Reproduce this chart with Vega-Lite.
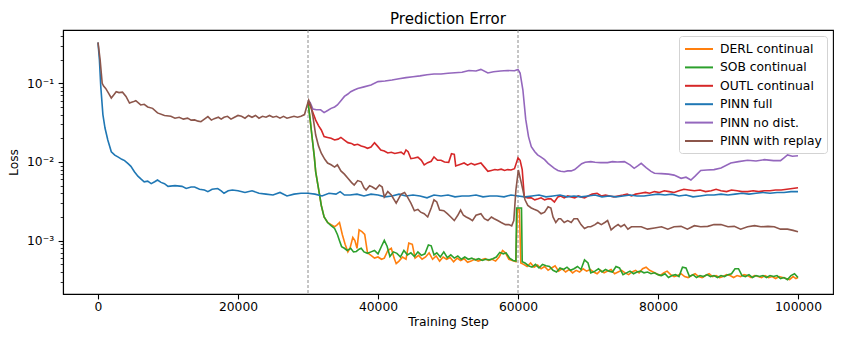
{
"$schema": "https://vega.github.io/schema/vega-lite/v6.json",
"width": 770, "height": 264,
"autosize": {"type": "none"},
"padding": {"left": 63, "top": 30, "right": 14, "bottom": 45},
"background": "white",
"title": {"text": "Prediction Error", "fontSize": 15, "font": "DejaVu Sans", "fontWeight": "normal", "color": "black", "offset": 2.5, "anchor": "middle"},
"config": {
  "view": {"stroke": "black", "strokeWidth": 1.1},
  "font": "DejaVu Sans",
  "axis": {"labelFont": "DejaVu Sans", "labelFontSize": 12.3, "labelColor": "black", "titleFont": "DejaVu Sans", "titleFontSize": 12.3, "titleFontWeight": "normal", "titleColor": "black", "tickColor": "black", "tickWidth": 1.1, "domainColor": "black", "domainWidth": 1.1, "grid": false, "labelPadding": 4.5},
  "legend": {"orient": "top-right", "offset": 6, "symbolType": "M-1,0H3", "symbolStrokeWidth": 2, "symbolSize": 196, "labelFont": "DejaVu Sans", "labelFontSize": 12.3, "labelColor": "black", "strokeColor": "#d3d3d3", "fillColor": "rgba(255,255,255,0.8)", "cornerRadius": 3, "padding": 5, "rowPadding": 3.4, "labelOffset": 20}
},
"layer": [
{"data": {"values": [{"step": 30000}, {"step": 60000}]},
 "mark": {"type": "rule", "color": "#7f7f7f", "strokeDash": [3, 2], "strokeWidth": 0.9},
 "encoding": {"x": {"field": "step", "type": "quantitative", "scale": {"domain": [-5000, 105000], "nice": false, "zero": false}}}},
{"data": {"values": [
{"series":"DERL continual","step":30000,"loss":0.058},
{"series":"DERL continual","step":30300,"loss":0.035},
{"series":"DERL continual","step":30600,"loss":0.02},
{"series":"DERL continual","step":30900,"loss":0.0117},
{"series":"DERL continual","step":31100,"loss":0.0075},
{"series":"DERL continual","step":31400,"loss":0.0052},
{"series":"DERL continual","step":31700,"loss":0.0036},
{"series":"DERL continual","step":31900,"loss":0.0028},
{"series":"DERL continual","step":32300,"loss":0.002},
{"series":"DERL continual","step":32800,"loss":0.0017},
{"series":"DERL continual","step":33300,"loss":0.0016},
{"series":"DERL continual","step":33800,"loss":0.0015},
{"series":"DERL continual","step":34200,"loss":0.0016},
{"series":"DERL continual","step":34500,"loss":0.0017},
{"series":"DERL continual","step":34900,"loss":0.0012},
{"series":"DERL continual","step":35300,"loss":0.0009},
{"series":"DERL continual","step":35700,"loss":0.00072},
{"series":"DERL continual","step":36000,"loss":0.0008},
{"series":"DERL continual","step":36400,"loss":0.0011},
{"series":"DERL continual","step":36700,"loss":0.001},
{"series":"DERL continual","step":37000,"loss":0.0008},
{"series":"DERL continual","step":37300,"loss":0.00137},
{"series":"DERL continual","step":37700,"loss":0.0013},
{"series":"DERL continual","step":38100,"loss":0.0012},
{"series":"DERL continual","step":38500,"loss":0.0007},
{"series":"DERL continual","step":39000,"loss":0.00065},
{"series":"DERL continual","step":39500,"loss":0.0006},
{"series":"DERL continual","step":40000,"loss":0.00062},
{"series":"DERL continual","step":40500,"loss":0.00058},
{"series":"DERL continual","step":40900,"loss":0.0006},
{"series":"DERL continual","step":41400,"loss":0.00075},
{"series":"DERL continual","step":41900,"loss":0.0008},
{"series":"DERL continual","step":42300,"loss":0.0006},
{"series":"DERL continual","step":42600,"loss":0.00051},
{"series":"DERL continual","step":43000,"loss":0.00055},
{"series":"DERL continual","step":43500,"loss":0.00062},
{"series":"DERL continual","step":44000,"loss":0.00058},
{"series":"DERL continual","step":44400,"loss":0.00093},
{"series":"DERL continual","step":44900,"loss":0.0009},
{"series":"DERL continual","step":45300,"loss":0.0006},
{"series":"DERL continual","step":45800,"loss":0.00065},
{"series":"DERL continual","step":46300,"loss":0.00058},
{"series":"DERL continual","step":46800,"loss":0.00062},
{"series":"DERL continual","step":47300,"loss":0.0007},
{"series":"DERL continual","step":47800,"loss":0.00058},
{"series":"DERL continual","step":48300,"loss":0.00064},
{"series":"DERL continual","step":48800,"loss":0.00055},
{"series":"DERL continual","step":49300,"loss":0.00062},
{"series":"DERL continual","step":49800,"loss":0.00058},
{"series":"DERL continual","step":50300,"loss":0.00061},
{"series":"DERL continual","step":50800,"loss":0.00054},
{"series":"DERL continual","step":51300,"loss":0.0006},
{"series":"DERL continual","step":51800,"loss":0.00056},
{"series":"DERL continual","step":52300,"loss":0.00059},
{"series":"DERL continual","step":52800,"loss":0.00053},
{"series":"DERL continual","step":53300,"loss":0.00055},
{"series":"DERL continual","step":53800,"loss":0.00058},
{"series":"DERL continual","step":54300,"loss":0.00055},
{"series":"DERL continual","step":54800,"loss":0.00057},
{"series":"DERL continual","step":55300,"loss":0.00059},
{"series":"DERL continual","step":55800,"loss":0.00056},
{"series":"DERL continual","step":56300,"loss":0.00058},
{"series":"DERL continual","step":56800,"loss":0.00055},
{"series":"DERL continual","step":57300,"loss":0.00062},
{"series":"DERL continual","step":57800,"loss":0.00075},
{"series":"DERL continual","step":58200,"loss":0.0007},
{"series":"DERL continual","step":58700,"loss":0.00058},
{"series":"DERL continual","step":59200,"loss":0.00056},
{"series":"DERL continual","step":59700,"loss":0.00054},
{"series":"DERL continual","step":59900,"loss":0.0025},
{"series":"DERL continual","step":60200,"loss":0.0025},
{"series":"DERL continual","step":60400,"loss":0.00052},
{"series":"DERL continual","step":60800,"loss":0.0005},
{"series":"DERL continual","step":61300,"loss":0.00047},
{"series":"DERL continual","step":61800,"loss":0.00052},
{"series":"DERL continual","step":62300,"loss":0.00046},
{"series":"DERL continual","step":62800,"loss":0.00049},
{"series":"DERL continual","step":63300,"loss":0.00044},
{"series":"DERL continual","step":63800,"loss":0.00047},
{"series":"DERL continual","step":64300,"loss":0.00042},
{"series":"DERL continual","step":64800,"loss":0.00045},
{"series":"DERL continual","step":65300,"loss":0.00048},
{"series":"DERL continual","step":65800,"loss":0.00041},
{"series":"DERL continual","step":66300,"loss":0.00044},
{"series":"DERL continual","step":66800,"loss":0.0004},
{"series":"DERL continual","step":67300,"loss":0.00043},
{"series":"DERL continual","step":67800,"loss":0.00039},
{"series":"DERL continual","step":68300,"loss":0.00042},
{"series":"DERL continual","step":68800,"loss":0.0004},
{"series":"DERL continual","step":69300,"loss":0.00044},
{"series":"DERL continual","step":69800,"loss":0.00041},
{"series":"DERL continual","step":70300,"loss":0.00043},
{"series":"DERL continual","step":70800,"loss":0.0004},
{"series":"DERL continual","step":71300,"loss":0.00038},
{"series":"DERL continual","step":71800,"loss":0.00042},
{"series":"DERL continual","step":72300,"loss":0.00039},
{"series":"DERL continual","step":72800,"loss":0.00041},
{"series":"DERL continual","step":73300,"loss":0.00043},
{"series":"DERL continual","step":73800,"loss":0.00038},
{"series":"DERL continual","step":74300,"loss":0.0004},
{"series":"DERL continual","step":74800,"loss":0.00042},
{"series":"DERL continual","step":75300,"loss":0.00039},
{"series":"DERL continual","step":75800,"loss":0.00037},
{"series":"DERL continual","step":76300,"loss":0.0004},
{"series":"DERL continual","step":76800,"loss":0.00042},
{"series":"DERL continual","step":77300,"loss":0.00039},
{"series":"DERL continual","step":77800,"loss":0.00044},
{"series":"DERL continual","step":78300,"loss":0.00046},
{"series":"DERL continual","step":78800,"loss":0.00042},
{"series":"DERL continual","step":79300,"loss":0.0004},
{"series":"DERL continual","step":79800,"loss":0.00038},
{"series":"DERL continual","step":80300,"loss":0.00036},
{"series":"DERL continual","step":80800,"loss":0.00039},
{"series":"DERL continual","step":81300,"loss":0.00041},
{"series":"DERL continual","step":81800,"loss":0.00037},
{"series":"DERL continual","step":82300,"loss":0.00035},
{"series":"DERL continual","step":82800,"loss":0.00036},
{"series":"DERL continual","step":83300,"loss":0.00038},
{"series":"DERL continual","step":83800,"loss":0.00035},
{"series":"DERL continual","step":84300,"loss":0.00034},
{"series":"DERL continual","step":84800,"loss":0.00036},
{"series":"DERL continual","step":85300,"loss":0.00038},
{"series":"DERL continual","step":85800,"loss":0.00035},
{"series":"DERL continual","step":86300,"loss":0.00034},
{"series":"DERL continual","step":86800,"loss":0.00036},
{"series":"DERL continual","step":87300,"loss":0.00038},
{"series":"DERL continual","step":87800,"loss":0.00035},
{"series":"DERL continual","step":88300,"loss":0.00036},
{"series":"DERL continual","step":88800,"loss":0.00034},
{"series":"DERL continual","step":89300,"loss":0.00035},
{"series":"DERL continual","step":89800,"loss":0.00037},
{"series":"DERL continual","step":90300,"loss":0.00036},
{"series":"DERL continual","step":90800,"loss":0.00034},
{"series":"DERL continual","step":91300,"loss":0.00036},
{"series":"DERL continual","step":91800,"loss":0.00035},
{"series":"DERL continual","step":92300,"loss":0.00037},
{"series":"DERL continual","step":92800,"loss":0.00036},
{"series":"DERL continual","step":93300,"loss":0.00034},
{"series":"DERL continual","step":93800,"loss":0.00036},
{"series":"DERL continual","step":94300,"loss":0.00035},
{"series":"DERL continual","step":94800,"loss":0.00034},
{"series":"DERL continual","step":95300,"loss":0.00036},
{"series":"DERL continual","step":95800,"loss":0.00034},
{"series":"DERL continual","step":96300,"loss":0.00035},
{"series":"DERL continual","step":96800,"loss":0.00033},
{"series":"DERL continual","step":97300,"loss":0.00035},
{"series":"DERL continual","step":97800,"loss":0.00034},
{"series":"DERL continual","step":98300,"loss":0.00033},
{"series":"DERL continual","step":98800,"loss":0.00032},
{"series":"DERL continual","step":99300,"loss":0.00035},
{"series":"DERL continual","step":99700,"loss":0.00033},
{"series":"DERL continual","step":100000,"loss":0.00034},
{"series":"SOB continual","step":30000,"loss":0.058},
{"series":"SOB continual","step":30300,"loss":0.035},
{"series":"SOB continual","step":30600,"loss":0.02},
{"series":"SOB continual","step":30900,"loss":0.0117},
{"series":"SOB continual","step":31100,"loss":0.0075},
{"series":"SOB continual","step":31400,"loss":0.0052},
{"series":"SOB continual","step":31700,"loss":0.0036},
{"series":"SOB continual","step":31900,"loss":0.0028},
{"series":"SOB continual","step":32300,"loss":0.002},
{"series":"SOB continual","step":32800,"loss":0.0017},
{"series":"SOB continual","step":33300,"loss":0.00155},
{"series":"SOB continual","step":33800,"loss":0.00143},
{"series":"SOB continual","step":34200,"loss":0.0012},
{"series":"SOB continual","step":34500,"loss":0.001},
{"series":"SOB continual","step":34800,"loss":0.00084},
{"series":"SOB continual","step":35200,"loss":0.0008},
{"series":"SOB continual","step":35600,"loss":0.00075},
{"series":"SOB continual","step":36100,"loss":0.0008},
{"series":"SOB continual","step":36500,"loss":0.00072},
{"series":"SOB continual","step":36900,"loss":0.00073},
{"series":"SOB continual","step":37300,"loss":0.00078},
{"series":"SOB continual","step":37600,"loss":0.0008},
{"series":"SOB continual","step":38000,"loss":0.00072},
{"series":"SOB continual","step":38500,"loss":0.00069},
{"series":"SOB continual","step":39000,"loss":0.00072},
{"series":"SOB continual","step":39500,"loss":0.00075},
{"series":"SOB continual","step":40000,"loss":0.00068},
{"series":"SOB continual","step":40500,"loss":0.00085},
{"series":"SOB continual","step":40900,"loss":0.00101},
{"series":"SOB continual","step":41300,"loss":0.00085},
{"series":"SOB continual","step":41700,"loss":0.00063},
{"series":"SOB continual","step":42200,"loss":0.00072},
{"series":"SOB continual","step":42700,"loss":0.00069},
{"series":"SOB continual","step":43200,"loss":0.00062},
{"series":"SOB continual","step":43700,"loss":0.00075},
{"series":"SOB continual","step":44200,"loss":0.00066},
{"series":"SOB continual","step":44700,"loss":0.0007},
{"series":"SOB continual","step":45200,"loss":0.00063},
{"series":"SOB continual","step":45700,"loss":0.00072},
{"series":"SOB continual","step":46200,"loss":0.00065},
{"series":"SOB continual","step":46700,"loss":0.00068},
{"series":"SOB continual","step":47200,"loss":0.00088},
{"series":"SOB continual","step":47600,"loss":0.00086},
{"series":"SOB continual","step":48000,"loss":0.00066},
{"series":"SOB continual","step":48400,"loss":0.0007},
{"series":"SOB continual","step":48900,"loss":0.00062},
{"series":"SOB continual","step":49400,"loss":0.00072},
{"series":"SOB continual","step":49900,"loss":0.00061},
{"series":"SOB continual","step":50400,"loss":0.00066},
{"series":"SOB continual","step":50900,"loss":0.0006},
{"series":"SOB continual","step":51400,"loss":0.00064},
{"series":"SOB continual","step":51900,"loss":0.00058},
{"series":"SOB continual","step":52400,"loss":0.00062},
{"series":"SOB continual","step":52900,"loss":0.00058},
{"series":"SOB continual","step":53400,"loss":0.0006},
{"series":"SOB continual","step":53900,"loss":0.00057},
{"series":"SOB continual","step":54400,"loss":0.00059},
{"series":"SOB continual","step":54900,"loss":0.00056},
{"series":"SOB continual","step":55400,"loss":0.00058},
{"series":"SOB continual","step":55900,"loss":0.00057},
{"series":"SOB continual","step":56400,"loss":0.00059},
{"series":"SOB continual","step":56900,"loss":0.00062},
{"series":"SOB continual","step":57400,"loss":0.00071},
{"series":"SOB continual","step":57900,"loss":0.00068},
{"series":"SOB continual","step":58300,"loss":0.0007},
{"series":"SOB continual","step":58800,"loss":0.0006},
{"series":"SOB continual","step":59300,"loss":0.00056},
{"series":"SOB continual","step":59700,"loss":0.00055},
{"series":"SOB continual","step":59800,"loss":0.0026},
{"series":"SOB continual","step":60500,"loss":0.0026},
{"series":"SOB continual","step":60600,"loss":0.00054},
{"series":"SOB continual","step":61000,"loss":0.00052},
{"series":"SOB continual","step":61500,"loss":0.00048},
{"series":"SOB continual","step":62000,"loss":0.00046},
{"series":"SOB continual","step":62500,"loss":0.0005},
{"series":"SOB continual","step":63000,"loss":0.00045},
{"series":"SOB continual","step":63500,"loss":0.0005},
{"series":"SOB continual","step":64000,"loss":0.00048},
{"series":"SOB continual","step":64500,"loss":0.00047},
{"series":"SOB continual","step":65000,"loss":0.00042},
{"series":"SOB continual","step":65500,"loss":0.0004},
{"series":"SOB continual","step":66000,"loss":0.00045},
{"series":"SOB continual","step":66500,"loss":0.00043},
{"series":"SOB continual","step":67000,"loss":0.00046},
{"series":"SOB continual","step":67500,"loss":0.00042},
{"series":"SOB continual","step":68000,"loss":0.00044},
{"series":"SOB continual","step":68500,"loss":0.00047},
{"series":"SOB continual","step":69000,"loss":0.00043},
{"series":"SOB continual","step":69500,"loss":0.00057},
{"series":"SOB continual","step":70000,"loss":0.00052},
{"series":"SOB continual","step":70400,"loss":0.00039},
{"series":"SOB continual","step":71000,"loss":0.00041},
{"series":"SOB continual","step":71500,"loss":0.00044},
{"series":"SOB continual","step":72000,"loss":0.0004},
{"series":"SOB continual","step":72500,"loss":0.00043},
{"series":"SOB continual","step":73000,"loss":0.00041},
{"series":"SOB continual","step":73500,"loss":0.0004},
{"series":"SOB continual","step":74000,"loss":0.00047},
{"series":"SOB continual","step":74500,"loss":0.00045},
{"series":"SOB continual","step":75000,"loss":0.00037},
{"series":"SOB continual","step":75500,"loss":0.00039},
{"series":"SOB continual","step":76000,"loss":0.00041},
{"series":"SOB continual","step":76500,"loss":0.00038},
{"series":"SOB continual","step":77000,"loss":0.0004},
{"series":"SOB continual","step":77500,"loss":0.00041},
{"series":"SOB continual","step":78000,"loss":0.00039},
{"series":"SOB continual","step":78500,"loss":0.0004},
{"series":"SOB continual","step":79000,"loss":0.00038},
{"series":"SOB continual","step":79500,"loss":0.00039},
{"series":"SOB continual","step":80000,"loss":0.00037},
{"series":"SOB continual","step":80500,"loss":0.00036},
{"series":"SOB continual","step":81000,"loss":0.00038},
{"series":"SOB continual","step":81500,"loss":0.00034},
{"series":"SOB continual","step":82000,"loss":0.00036},
{"series":"SOB continual","step":82500,"loss":0.00037},
{"series":"SOB continual","step":83000,"loss":0.00035},
{"series":"SOB continual","step":83500,"loss":0.00046},
{"series":"SOB continual","step":84000,"loss":0.00045},
{"series":"SOB continual","step":84500,"loss":0.00035},
{"series":"SOB continual","step":85000,"loss":0.00037},
{"series":"SOB continual","step":85500,"loss":0.00034},
{"series":"SOB continual","step":86000,"loss":0.00036},
{"series":"SOB continual","step":86500,"loss":0.00035},
{"series":"SOB continual","step":87000,"loss":0.00037},
{"series":"SOB continual","step":87500,"loss":0.00035},
{"series":"SOB continual","step":88000,"loss":0.00036},
{"series":"SOB continual","step":88500,"loss":0.00034},
{"series":"SOB continual","step":89000,"loss":0.00036},
{"series":"SOB continual","step":89500,"loss":0.00035},
{"series":"SOB continual","step":90000,"loss":0.00037},
{"series":"SOB continual","step":90500,"loss":0.00038},
{"series":"SOB continual","step":91000,"loss":0.00044},
{"series":"SOB continual","step":91500,"loss":0.00044},
{"series":"SOB continual","step":92000,"loss":0.00036},
{"series":"SOB continual","step":92500,"loss":0.00035},
{"series":"SOB continual","step":93000,"loss":0.00037},
{"series":"SOB continual","step":93500,"loss":0.00034},
{"series":"SOB continual","step":94000,"loss":0.00036},
{"series":"SOB continual","step":94500,"loss":0.00035},
{"series":"SOB continual","step":95000,"loss":0.00036},
{"series":"SOB continual","step":95500,"loss":0.00034},
{"series":"SOB continual","step":96000,"loss":0.00036},
{"series":"SOB continual","step":96500,"loss":0.00035},
{"series":"SOB continual","step":97000,"loss":0.00036},
{"series":"SOB continual","step":97500,"loss":0.00033},
{"series":"SOB continual","step":98000,"loss":0.00034},
{"series":"SOB continual","step":98500,"loss":0.00032},
{"series":"SOB continual","step":99000,"loss":0.00036},
{"series":"SOB continual","step":99500,"loss":0.00038},
{"series":"SOB continual","step":100000,"loss":0.00034},
{"series":"OUTL continual","step":30000,"loss":0.058},
{"series":"OUTL continual","step":30400,"loss":0.05},
{"series":"OUTL continual","step":30800,"loss":0.04},
{"series":"OUTL continual","step":31100,"loss":0.034},
{"series":"OUTL continual","step":31500,"loss":0.029},
{"series":"OUTL continual","step":31900,"loss":0.0255},
{"series":"OUTL continual","step":32300,"loss":0.021},
{"series":"OUTL continual","step":32800,"loss":0.0205},
{"series":"OUTL continual","step":33300,"loss":0.02},
{"series":"OUTL continual","step":33800,"loss":0.019},
{"series":"OUTL continual","step":34300,"loss":0.0195},
{"series":"OUTL continual","step":34700,"loss":0.0205},
{"series":"OUTL continual","step":35200,"loss":0.019},
{"series":"OUTL continual","step":35700,"loss":0.0176},
{"series":"OUTL continual","step":36200,"loss":0.0172},
{"series":"OUTL continual","step":36600,"loss":0.0164},
{"series":"OUTL continual","step":37100,"loss":0.0168},
{"series":"OUTL continual","step":37600,"loss":0.016},
{"series":"OUTL continual","step":38100,"loss":0.0155},
{"series":"OUTL continual","step":38500,"loss":0.0149},
{"series":"OUTL continual","step":39000,"loss":0.0155},
{"series":"OUTL continual","step":39500,"loss":0.0176},
{"series":"OUTL continual","step":39900,"loss":0.016},
{"series":"OUTL continual","step":40400,"loss":0.0142},
{"series":"OUTL continual","step":40900,"loss":0.0138},
{"series":"OUTL continual","step":41400,"loss":0.013},
{"series":"OUTL continual","step":41900,"loss":0.0133},
{"series":"OUTL continual","step":42400,"loss":0.0128},
{"series":"OUTL continual","step":42900,"loss":0.0131},
{"series":"OUTL continual","step":43300,"loss":0.0133},
{"series":"OUTL continual","step":43700,"loss":0.0125},
{"series":"OUTL continual","step":44000,"loss":0.0142},
{"series":"OUTL continual","step":44300,"loss":0.0135},
{"series":"OUTL continual","step":44700,"loss":0.011},
{"series":"OUTL continual","step":45200,"loss":0.0112},
{"series":"OUTL continual","step":45700,"loss":0.0115},
{"series":"OUTL continual","step":46200,"loss":0.0105},
{"series":"OUTL continual","step":46600,"loss":0.0092},
{"series":"OUTL continual","step":47100,"loss":0.0098},
{"series":"OUTL continual","step":47600,"loss":0.0102},
{"series":"OUTL continual","step":48000,"loss":0.0116},
{"series":"OUTL continual","step":48500,"loss":0.0105},
{"series":"OUTL continual","step":49000,"loss":0.0105},
{"series":"OUTL continual","step":49500,"loss":0.01},
{"series":"OUTL continual","step":50100,"loss":0.0099},
{"series":"OUTL continual","step":50500,"loss":0.0127},
{"series":"OUTL continual","step":50900,"loss":0.0125},
{"series":"OUTL continual","step":51100,"loss":0.0089},
{"series":"OUTL continual","step":51700,"loss":0.0093},
{"series":"OUTL continual","step":52300,"loss":0.0097},
{"series":"OUTL continual","step":52800,"loss":0.0091},
{"series":"OUTL continual","step":53300,"loss":0.0096},
{"series":"OUTL continual","step":53800,"loss":0.0092},
{"series":"OUTL continual","step":54300,"loss":0.0095},
{"series":"OUTL continual","step":54700,"loss":0.0097},
{"series":"OUTL continual","step":55200,"loss":0.0086},
{"series":"OUTL continual","step":55700,"loss":0.0076},
{"series":"OUTL continual","step":56200,"loss":0.0078},
{"series":"OUTL continual","step":56700,"loss":0.008},
{"series":"OUTL continual","step":57100,"loss":0.0079},
{"series":"OUTL continual","step":57600,"loss":0.0081},
{"series":"OUTL continual","step":58100,"loss":0.0078},
{"series":"OUTL continual","step":58500,"loss":0.008},
{"series":"OUTL continual","step":59000,"loss":0.0079},
{"series":"OUTL continual","step":59500,"loss":0.0082},
{"series":"OUTL continual","step":60000,"loss":0.0113},
{"series":"OUTL continual","step":60300,"loss":0.0105},
{"series":"OUTL continual","step":60600,"loss":0.008},
{"series":"OUTL continual","step":60900,"loss":0.0036},
{"series":"OUTL continual","step":61400,"loss":0.0035},
{"series":"OUTL continual","step":61900,"loss":0.0035},
{"series":"OUTL continual","step":62400,"loss":0.0033},
{"series":"OUTL continual","step":62900,"loss":0.0034},
{"series":"OUTL continual","step":63300,"loss":0.0035},
{"series":"OUTL continual","step":63800,"loss":0.0033},
{"series":"OUTL continual","step":64300,"loss":0.0034},
{"series":"OUTL continual","step":64700,"loss":0.0034},
{"series":"OUTL continual","step":65200,"loss":0.0031},
{"series":"OUTL continual","step":65700,"loss":0.0036},
{"series":"OUTL continual","step":66100,"loss":0.0037},
{"series":"OUTL continual","step":66600,"loss":0.0035},
{"series":"OUTL continual","step":67100,"loss":0.0037},
{"series":"OUTL continual","step":67600,"loss":0.0036},
{"series":"OUTL continual","step":68100,"loss":0.0035},
{"series":"OUTL continual","step":68600,"loss":0.0037},
{"series":"OUTL continual","step":69000,"loss":0.0036},
{"series":"OUTL continual","step":69500,"loss":0.0035},
{"series":"OUTL continual","step":70000,"loss":0.0037},
{"series":"OUTL continual","step":70600,"loss":0.0039},
{"series":"OUTL continual","step":71300,"loss":0.004},
{"series":"OUTL continual","step":71900,"loss":0.0037},
{"series":"OUTL continual","step":72500,"loss":0.0038},
{"series":"OUTL continual","step":73100,"loss":0.0037},
{"series":"OUTL continual","step":73700,"loss":0.0036},
{"series":"OUTL continual","step":74300,"loss":0.0037},
{"series":"OUTL continual","step":75000,"loss":0.0038},
{"series":"OUTL continual","step":75600,"loss":0.0039},
{"series":"OUTL continual","step":76200,"loss":0.0037},
{"series":"OUTL continual","step":76800,"loss":0.0039},
{"series":"OUTL continual","step":77500,"loss":0.004},
{"series":"OUTL continual","step":78200,"loss":0.0041},
{"series":"OUTL continual","step":78800,"loss":0.004},
{"series":"OUTL continual","step":79500,"loss":0.0042},
{"series":"OUTL continual","step":80200,"loss":0.0041},
{"series":"OUTL continual","step":80900,"loss":0.0043},
{"series":"OUTL continual","step":81600,"loss":0.0042},
{"series":"OUTL continual","step":82300,"loss":0.0041},
{"series":"OUTL continual","step":83000,"loss":0.0043},
{"series":"OUTL continual","step":83700,"loss":0.0045},
{"series":"OUTL continual","step":84400,"loss":0.0044},
{"series":"OUTL continual","step":85200,"loss":0.0043},
{"series":"OUTL continual","step":86000,"loss":0.0044},
{"series":"OUTL continual","step":86800,"loss":0.0042},
{"series":"OUTL continual","step":87600,"loss":0.0043},
{"series":"OUTL continual","step":88300,"loss":0.0045},
{"series":"OUTL continual","step":89000,"loss":0.0043},
{"series":"OUTL continual","step":89800,"loss":0.0042},
{"series":"OUTL continual","step":90500,"loss":0.0044},
{"series":"OUTL continual","step":91300,"loss":0.0043},
{"series":"OUTL continual","step":92000,"loss":0.0042},
{"series":"OUTL continual","step":92800,"loss":0.0042},
{"series":"OUTL continual","step":93600,"loss":0.0043},
{"series":"OUTL continual","step":94400,"loss":0.0042},
{"series":"OUTL continual","step":95200,"loss":0.0043},
{"series":"OUTL continual","step":96000,"loss":0.0043},
{"series":"OUTL continual","step":96800,"loss":0.0044},
{"series":"OUTL continual","step":97600,"loss":0.0044},
{"series":"OUTL continual","step":98400,"loss":0.0045},
{"series":"OUTL continual","step":99200,"loss":0.0046},
{"series":"OUTL continual","step":100000,"loss":0.0047},
{"series":"PINN full","step":0,"loss":0.33},
{"series":"PINN full","step":200,"loss":0.2},
{"series":"PINN full","step":400,"loss":0.09},
{"series":"PINN full","step":700,"loss":0.04},
{"series":"PINN full","step":1000,"loss":0.027},
{"series":"PINN full","step":1400,"loss":0.019},
{"series":"PINN full","step":1900,"loss":0.0135},
{"series":"PINN full","step":2400,"loss":0.0122},
{"series":"PINN full","step":2900,"loss":0.0115},
{"series":"PINN full","step":3400,"loss":0.0108},
{"series":"PINN full","step":3800,"loss":0.0104},
{"series":"PINN full","step":4300,"loss":0.0095},
{"series":"PINN full","step":4700,"loss":0.0088},
{"series":"PINN full","step":5200,"loss":0.0075},
{"series":"PINN full","step":5700,"loss":0.0066},
{"series":"PINN full","step":6200,"loss":0.006},
{"series":"PINN full","step":6600,"loss":0.0056},
{"series":"PINN full","step":7100,"loss":0.0057},
{"series":"PINN full","step":7600,"loss":0.0053},
{"series":"PINN full","step":8100,"loss":0.0056},
{"series":"PINN full","step":8500,"loss":0.0059},
{"series":"PINN full","step":9000,"loss":0.0055},
{"series":"PINN full","step":9500,"loss":0.0053},
{"series":"PINN full","step":10000,"loss":0.0049},
{"series":"PINN full","step":11000,"loss":0.005},
{"series":"PINN full","step":12000,"loss":0.0049},
{"series":"PINN full","step":12600,"loss":0.0046},
{"series":"PINN full","step":13300,"loss":0.0048},
{"series":"PINN full","step":13800,"loss":0.0048},
{"series":"PINN full","step":14500,"loss":0.0045},
{"series":"PINN full","step":15200,"loss":0.0044},
{"series":"PINN full","step":15700,"loss":0.0042},
{"series":"PINN full","step":16300,"loss":0.0045},
{"series":"PINN full","step":17100,"loss":0.0046},
{"series":"PINN full","step":17600,"loss":0.0043},
{"series":"PINN full","step":18000,"loss":0.004},
{"series":"PINN full","step":18600,"loss":0.0043},
{"series":"PINN full","step":19200,"loss":0.0044},
{"series":"PINN full","step":20000,"loss":0.0043},
{"series":"PINN full","step":21000,"loss":0.0041},
{"series":"PINN full","step":22000,"loss":0.0043},
{"series":"PINN full","step":23000,"loss":0.004},
{"series":"PINN full","step":24000,"loss":0.0039},
{"series":"PINN full","step":25000,"loss":0.0038},
{"series":"PINN full","step":26000,"loss":0.0041},
{"series":"PINN full","step":27000,"loss":0.0037},
{"series":"PINN full","step":28000,"loss":0.0039},
{"series":"PINN full","step":29000,"loss":0.004},
{"series":"PINN full","step":30000,"loss":0.004},
{"series":"PINN full","step":31000,"loss":0.0039},
{"series":"PINN full","step":32000,"loss":0.0037},
{"series":"PINN full","step":33000,"loss":0.004},
{"series":"PINN full","step":34000,"loss":0.0039},
{"series":"PINN full","step":34600,"loss":0.0042},
{"series":"PINN full","step":35200,"loss":0.0038},
{"series":"PINN full","step":36000,"loss":0.0038},
{"series":"PINN full","step":37000,"loss":0.0039},
{"series":"PINN full","step":38000,"loss":0.0037},
{"series":"PINN full","step":39000,"loss":0.0039},
{"series":"PINN full","step":40000,"loss":0.0038},
{"series":"PINN full","step":41000,"loss":0.0036},
{"series":"PINN full","step":42000,"loss":0.0037},
{"series":"PINN full","step":43000,"loss":0.0039},
{"series":"PINN full","step":44000,"loss":0.0037},
{"series":"PINN full","step":45000,"loss":0.0038},
{"series":"PINN full","step":46000,"loss":0.0037},
{"series":"PINN full","step":47000,"loss":0.0035},
{"series":"PINN full","step":48000,"loss":0.0038},
{"series":"PINN full","step":49000,"loss":0.0037},
{"series":"PINN full","step":50000,"loss":0.0038},
{"series":"PINN full","step":51000,"loss":0.0036},
{"series":"PINN full","step":52000,"loss":0.0037},
{"series":"PINN full","step":53000,"loss":0.0037},
{"series":"PINN full","step":54000,"loss":0.0038},
{"series":"PINN full","step":55000,"loss":0.0036},
{"series":"PINN full","step":56000,"loss":0.0037},
{"series":"PINN full","step":57000,"loss":0.0037},
{"series":"PINN full","step":58000,"loss":0.0036},
{"series":"PINN full","step":59000,"loss":0.0038},
{"series":"PINN full","step":60000,"loss":0.0037},
{"series":"PINN full","step":61000,"loss":0.0036},
{"series":"PINN full","step":62000,"loss":0.0037},
{"series":"PINN full","step":63000,"loss":0.0038},
{"series":"PINN full","step":64000,"loss":0.0036},
{"series":"PINN full","step":65000,"loss":0.0037},
{"series":"PINN full","step":66000,"loss":0.0038},
{"series":"PINN full","step":67000,"loss":0.0036},
{"series":"PINN full","step":68000,"loss":0.0037},
{"series":"PINN full","step":69000,"loss":0.0036},
{"series":"PINN full","step":70000,"loss":0.0037},
{"series":"PINN full","step":71000,"loss":0.0038},
{"series":"PINN full","step":72000,"loss":0.0036},
{"series":"PINN full","step":73000,"loss":0.0037},
{"series":"PINN full","step":74000,"loss":0.0036},
{"series":"PINN full","step":75000,"loss":0.0037},
{"series":"PINN full","step":76000,"loss":0.0038},
{"series":"PINN full","step":77000,"loss":0.0037},
{"series":"PINN full","step":78000,"loss":0.0037},
{"series":"PINN full","step":79000,"loss":0.0038},
{"series":"PINN full","step":80000,"loss":0.0039},
{"series":"PINN full","step":81000,"loss":0.0038},
{"series":"PINN full","step":82000,"loss":0.0039},
{"series":"PINN full","step":83000,"loss":0.0037},
{"series":"PINN full","step":84000,"loss":0.0038},
{"series":"PINN full","step":85000,"loss":0.0036},
{"series":"PINN full","step":86000,"loss":0.0037},
{"series":"PINN full","step":87000,"loss":0.0038},
{"series":"PINN full","step":88000,"loss":0.0038},
{"series":"PINN full","step":89000,"loss":0.0039},
{"series":"PINN full","step":90000,"loss":0.0038},
{"series":"PINN full","step":91000,"loss":0.0039},
{"series":"PINN full","step":92000,"loss":0.004},
{"series":"PINN full","step":93000,"loss":0.0039},
{"series":"PINN full","step":94000,"loss":0.004},
{"series":"PINN full","step":95000,"loss":0.0041},
{"series":"PINN full","step":96000,"loss":0.004},
{"series":"PINN full","step":97000,"loss":0.0041},
{"series":"PINN full","step":98000,"loss":0.0041},
{"series":"PINN full","step":99000,"loss":0.0042},
{"series":"PINN full","step":100000,"loss":0.0042},
{"series":"PINN no dist.","step":30000,"loss":0.058},
{"series":"PINN no dist.","step":30300,"loss":0.057},
{"series":"PINN no dist.","step":30700,"loss":0.047},
{"series":"PINN no dist.","step":31200,"loss":0.046},
{"series":"PINN no dist.","step":31800,"loss":0.046},
{"series":"PINN no dist.","step":32300,"loss":0.0424},
{"series":"PINN no dist.","step":32800,"loss":0.045},
{"series":"PINN no dist.","step":33300,"loss":0.048},
{"series":"PINN no dist.","step":33800,"loss":0.05},
{"series":"PINN no dist.","step":34200,"loss":0.053},
{"series":"PINN no dist.","step":34700,"loss":0.06},
{"series":"PINN no dist.","step":35200,"loss":0.068},
{"series":"PINN no dist.","step":35700,"loss":0.073},
{"series":"PINN no dist.","step":36100,"loss":0.078},
{"series":"PINN no dist.","step":36600,"loss":0.082},
{"series":"PINN no dist.","step":37100,"loss":0.086},
{"series":"PINN no dist.","step":38000,"loss":0.09},
{"series":"PINN no dist.","step":39000,"loss":0.095},
{"series":"PINN no dist.","step":40000,"loss":0.105},
{"series":"PINN no dist.","step":41000,"loss":0.107},
{"series":"PINN no dist.","step":42000,"loss":0.11},
{"series":"PINN no dist.","step":43000,"loss":0.114},
{"series":"PINN no dist.","step":44000,"loss":0.118},
{"series":"PINN no dist.","step":45000,"loss":0.121},
{"series":"PINN no dist.","step":46000,"loss":0.124},
{"series":"PINN no dist.","step":47000,"loss":0.128},
{"series":"PINN no dist.","step":48000,"loss":0.131},
{"series":"PINN no dist.","step":49000,"loss":0.131},
{"series":"PINN no dist.","step":50000,"loss":0.134},
{"series":"PINN no dist.","step":51000,"loss":0.136},
{"series":"PINN no dist.","step":52000,"loss":0.138},
{"series":"PINN no dist.","step":53000,"loss":0.145},
{"series":"PINN no dist.","step":54000,"loss":0.143},
{"series":"PINN no dist.","step":54700,"loss":0.15},
{"series":"PINN no dist.","step":55700,"loss":0.135},
{"series":"PINN no dist.","step":56500,"loss":0.14},
{"series":"PINN no dist.","step":57500,"loss":0.143},
{"series":"PINN no dist.","step":58500,"loss":0.145},
{"series":"PINN no dist.","step":59500,"loss":0.144},
{"series":"PINN no dist.","step":60000,"loss":0.15},
{"series":"PINN no dist.","step":60300,"loss":0.135},
{"series":"PINN no dist.","step":60700,"loss":0.082},
{"series":"PINN no dist.","step":61100,"loss":0.035},
{"series":"PINN no dist.","step":61500,"loss":0.021},
{"series":"PINN no dist.","step":61900,"loss":0.0156},
{"series":"PINN no dist.","step":62400,"loss":0.0135},
{"series":"PINN no dist.","step":62800,"loss":0.0123},
{"series":"PINN no dist.","step":63300,"loss":0.0115},
{"series":"PINN no dist.","step":63800,"loss":0.0107},
{"series":"PINN no dist.","step":64300,"loss":0.0096},
{"series":"PINN no dist.","step":64700,"loss":0.009},
{"series":"PINN no dist.","step":65200,"loss":0.0083},
{"series":"PINN no dist.","step":65700,"loss":0.0078},
{"series":"PINN no dist.","step":66100,"loss":0.0076},
{"series":"PINN no dist.","step":66600,"loss":0.0075},
{"series":"PINN no dist.","step":67100,"loss":0.0077},
{"series":"PINN no dist.","step":67600,"loss":0.0077},
{"series":"PINN no dist.","step":68100,"loss":0.008},
{"series":"PINN no dist.","step":68600,"loss":0.0087},
{"series":"PINN no dist.","step":69100,"loss":0.0095},
{"series":"PINN no dist.","step":69600,"loss":0.0099},
{"series":"PINN no dist.","step":70400,"loss":0.0101},
{"series":"PINN no dist.","step":71000,"loss":0.0099},
{"series":"PINN no dist.","step":71800,"loss":0.0098},
{"series":"PINN no dist.","step":72800,"loss":0.0098},
{"series":"PINN no dist.","step":73500,"loss":0.0101},
{"series":"PINN no dist.","step":74200,"loss":0.01},
{"series":"PINN no dist.","step":75200,"loss":0.0101},
{"series":"PINN no dist.","step":76000,"loss":0.0092},
{"series":"PINN no dist.","step":76600,"loss":0.0083},
{"series":"PINN no dist.","step":77100,"loss":0.0089},
{"series":"PINN no dist.","step":77600,"loss":0.0096},
{"series":"PINN no dist.","step":78300,"loss":0.0085},
{"series":"PINN no dist.","step":79000,"loss":0.0076},
{"series":"PINN no dist.","step":79500,"loss":0.0072},
{"series":"PINN no dist.","step":80500,"loss":0.0071},
{"series":"PINN no dist.","step":81500,"loss":0.007},
{"series":"PINN no dist.","step":82300,"loss":0.0068},
{"series":"PINN no dist.","step":83300,"loss":0.0062},
{"series":"PINN no dist.","step":84000,"loss":0.0064},
{"series":"PINN no dist.","step":84700,"loss":0.0059},
{"series":"PINN no dist.","step":85300,"loss":0.0066},
{"series":"PINN no dist.","step":86100,"loss":0.0078},
{"series":"PINN no dist.","step":87000,"loss":0.0079},
{"series":"PINN no dist.","step":88000,"loss":0.008},
{"series":"PINN no dist.","step":89000,"loss":0.0084},
{"series":"PINN no dist.","step":90400,"loss":0.0097},
{"series":"PINN no dist.","step":91500,"loss":0.0101},
{"series":"PINN no dist.","step":92800,"loss":0.0105},
{"series":"PINN no dist.","step":94000,"loss":0.0103},
{"series":"PINN no dist.","step":95200,"loss":0.0107},
{"series":"PINN no dist.","step":96500,"loss":0.0104},
{"series":"PINN no dist.","step":97500,"loss":0.0104},
{"series":"PINN no dist.","step":98000,"loss":0.0113},
{"series":"PINN no dist.","step":98500,"loss":0.0123},
{"series":"PINN no dist.","step":99200,"loss":0.0118},
{"series":"PINN no dist.","step":100000,"loss":0.012},
{"series":"PINN with replay","step":0,"loss":0.33},
{"series":"PINN with replay","step":300,"loss":0.2},
{"series":"PINN with replay","step":600,"loss":0.1},
{"series":"PINN with replay","step":800,"loss":0.092},
{"series":"PINN with replay","step":1100,"loss":0.086},
{"series":"PINN with replay","step":1500,"loss":0.075},
{"series":"PINN with replay","step":1900,"loss":0.065},
{"series":"PINN with replay","step":2300,"loss":0.072},
{"series":"PINN with replay","step":2600,"loss":0.078},
{"series":"PINN with replay","step":3000,"loss":0.076},
{"series":"PINN with replay","step":3500,"loss":0.077},
{"series":"PINN with replay","step":4000,"loss":0.068},
{"series":"PINN with replay","step":4500,"loss":0.056},
{"series":"PINN with replay","step":5000,"loss":0.058},
{"series":"PINN with replay","step":5400,"loss":0.06},
{"series":"PINN with replay","step":6100,"loss":0.053},
{"series":"PINN with replay","step":6600,"loss":0.054},
{"series":"PINN with replay","step":7100,"loss":0.05},
{"series":"PINN with replay","step":7800,"loss":0.048},
{"series":"PINN with replay","step":8500,"loss":0.042},
{"series":"PINN with replay","step":9500,"loss":0.039},
{"series":"PINN with replay","step":10400,"loss":0.038},
{"series":"PINN with replay","step":11000,"loss":0.036},
{"series":"PINN with replay","step":11600,"loss":0.037},
{"series":"PINN with replay","step":12200,"loss":0.035},
{"series":"PINN with replay","step":12800,"loss":0.036},
{"series":"PINN with replay","step":13300,"loss":0.034},
{"series":"PINN with replay","step":13800,"loss":0.0342},
{"series":"PINN with replay","step":14300,"loss":0.033},
{"series":"PINN with replay","step":14700,"loss":0.0325},
{"series":"PINN with replay","step":15200,"loss":0.035},
{"series":"PINN with replay","step":15700,"loss":0.0377},
{"series":"PINN with replay","step":16200,"loss":0.034},
{"series":"PINN with replay","step":16600,"loss":0.0355},
{"series":"PINN with replay","step":17200,"loss":0.037},
{"series":"PINN with replay","step":17600,"loss":0.035},
{"series":"PINN with replay","step":18000,"loss":0.037},
{"series":"PINN with replay","step":18500,"loss":0.038},
{"series":"PINN with replay","step":19000,"loss":0.035},
{"series":"PINN with replay","step":19500,"loss":0.037},
{"series":"PINN with replay","step":20000,"loss":0.039},
{"series":"PINN with replay","step":20500,"loss":0.038},
{"series":"PINN with replay","step":21000,"loss":0.036},
{"series":"PINN with replay","step":21500,"loss":0.039},
{"series":"PINN with replay","step":22000,"loss":0.037},
{"series":"PINN with replay","step":22500,"loss":0.039},
{"series":"PINN with replay","step":23000,"loss":0.036},
{"series":"PINN with replay","step":23500,"loss":0.038},
{"series":"PINN with replay","step":24000,"loss":0.037},
{"series":"PINN with replay","step":24500,"loss":0.039},
{"series":"PINN with replay","step":25000,"loss":0.037},
{"series":"PINN with replay","step":25500,"loss":0.038},
{"series":"PINN with replay","step":26000,"loss":0.036},
{"series":"PINN with replay","step":26500,"loss":0.038},
{"series":"PINN with replay","step":27000,"loss":0.036},
{"series":"PINN with replay","step":27500,"loss":0.037},
{"series":"PINN with replay","step":28000,"loss":0.038},
{"series":"PINN with replay","step":28500,"loss":0.037},
{"series":"PINN with replay","step":29000,"loss":0.038},
{"series":"PINN with replay","step":29500,"loss":0.04},
{"series":"PINN with replay","step":29800,"loss":0.05},
{"series":"PINN with replay","step":30100,"loss":0.061},
{"series":"PINN with replay","step":30400,"loss":0.052},
{"series":"PINN with replay","step":30700,"loss":0.038},
{"series":"PINN with replay","step":31100,"loss":0.022},
{"series":"PINN with replay","step":31500,"loss":0.016},
{"series":"PINN with replay","step":31900,"loss":0.0129},
{"series":"PINN with replay","step":32400,"loss":0.0108},
{"series":"PINN with replay","step":32800,"loss":0.0097},
{"series":"PINN with replay","step":33300,"loss":0.0092},
{"series":"PINN with replay","step":33800,"loss":0.0086},
{"series":"PINN with replay","step":34200,"loss":0.0092},
{"series":"PINN with replay","step":34700,"loss":0.0077},
{"series":"PINN with replay","step":35200,"loss":0.007},
{"series":"PINN with replay","step":35700,"loss":0.0062},
{"series":"PINN with replay","step":36200,"loss":0.0055},
{"series":"PINN with replay","step":36600,"loss":0.0051},
{"series":"PINN with replay","step":37100,"loss":0.0058},
{"series":"PINN with replay","step":37600,"loss":0.0056},
{"series":"PINN with replay","step":38000,"loss":0.0047},
{"series":"PINN with replay","step":38300,"loss":0.0044},
{"series":"PINN with replay","step":38800,"loss":0.005},
{"series":"PINN with replay","step":39200,"loss":0.0048},
{"series":"PINN with replay","step":39700,"loss":0.0045},
{"series":"PINN with replay","step":40200,"loss":0.0051},
{"series":"PINN with replay","step":40600,"loss":0.0048},
{"series":"PINN with replay","step":40900,"loss":0.0036},
{"series":"PINN with replay","step":41400,"loss":0.0042},
{"series":"PINN with replay","step":41900,"loss":0.0038},
{"series":"PINN with replay","step":42600,"loss":0.003},
{"series":"PINN with replay","step":43300,"loss":0.0039},
{"series":"PINN with replay","step":43800,"loss":0.0041},
{"series":"PINN with replay","step":44200,"loss":0.0036},
{"series":"PINN with replay","step":44700,"loss":0.003},
{"series":"PINN with replay","step":45200,"loss":0.0024},
{"series":"PINN with replay","step":45700,"loss":0.0025},
{"series":"PINN with replay","step":46100,"loss":0.0023},
{"series":"PINN with replay","step":46600,"loss":0.0022},
{"series":"PINN with replay","step":47100,"loss":0.002},
{"series":"PINN with replay","step":47600,"loss":0.0026},
{"series":"PINN with replay","step":48000,"loss":0.0033},
{"series":"PINN with replay","step":48400,"loss":0.0031},
{"series":"PINN with replay","step":48800,"loss":0.00245},
{"series":"PINN with replay","step":49400,"loss":0.0024},
{"series":"PINN with replay","step":49900,"loss":0.0022},
{"series":"PINN with replay","step":50400,"loss":0.002},
{"series":"PINN with replay","step":50900,"loss":0.0018},
{"series":"PINN with replay","step":51400,"loss":0.0021},
{"series":"PINN with replay","step":51800,"loss":0.00245},
{"series":"PINN with replay","step":52200,"loss":0.0021},
{"series":"PINN with replay","step":52600,"loss":0.002},
{"series":"PINN with replay","step":53100,"loss":0.0019},
{"series":"PINN with replay","step":53500,"loss":0.0018},
{"series":"PINN with replay","step":54000,"loss":0.0021},
{"series":"PINN with replay","step":54700,"loss":0.0022},
{"series":"PINN with replay","step":55200,"loss":0.0019},
{"series":"PINN with replay","step":55700,"loss":0.0018},
{"series":"PINN with replay","step":56200,"loss":0.002},
{"series":"PINN with replay","step":56600,"loss":0.0019},
{"series":"PINN with replay","step":57100,"loss":0.0018},
{"series":"PINN with replay","step":57600,"loss":0.0017},
{"series":"PINN with replay","step":58200,"loss":0.0016},
{"series":"PINN with replay","step":58700,"loss":0.0016},
{"series":"PINN with replay","step":59100,"loss":0.00154},
{"series":"PINN with replay","step":59400,"loss":0.0018},
{"series":"PINN with replay","step":59700,"loss":0.0044},
{"series":"PINN with replay","step":60050,"loss":0.0079},
{"series":"PINN with replay","step":60400,"loss":0.0058},
{"series":"PINN with replay","step":60700,"loss":0.0044},
{"series":"PINN with replay","step":61000,"loss":0.0033},
{"series":"PINN with replay","step":61400,"loss":0.0028},
{"series":"PINN with replay","step":61900,"loss":0.0026},
{"series":"PINN with replay","step":62300,"loss":0.0025},
{"series":"PINN with replay","step":62800,"loss":0.0024},
{"series":"PINN with replay","step":63300,"loss":0.0022},
{"series":"PINN with replay","step":63800,"loss":0.0023},
{"series":"PINN with replay","step":64300,"loss":0.0027},
{"series":"PINN with replay","step":64700,"loss":0.0026},
{"series":"PINN with replay","step":65000,"loss":0.002},
{"series":"PINN with replay","step":65400,"loss":0.0017},
{"series":"PINN with replay","step":65800,"loss":0.0019},
{"series":"PINN with replay","step":66100,"loss":0.0019},
{"series":"PINN with replay","step":66600,"loss":0.0017},
{"series":"PINN with replay","step":67100,"loss":0.0018},
{"series":"PINN with replay","step":67600,"loss":0.0017},
{"series":"PINN with replay","step":68000,"loss":0.0019},
{"series":"PINN with replay","step":68500,"loss":0.0019},
{"series":"PINN with replay","step":69000,"loss":0.0016},
{"series":"PINN with replay","step":69500,"loss":0.00143},
{"series":"PINN with replay","step":70000,"loss":0.0015},
{"series":"PINN with replay","step":70400,"loss":0.0015},
{"series":"PINN with replay","step":71000,"loss":0.0016},
{"series":"PINN with replay","step":71400,"loss":0.0017},
{"series":"PINN with replay","step":71900,"loss":0.0016},
{"series":"PINN with replay","step":72400,"loss":0.0017},
{"series":"PINN with replay","step":72800,"loss":0.0018},
{"series":"PINN with replay","step":73300,"loss":0.00137},
{"series":"PINN with replay","step":73800,"loss":0.0015},
{"series":"PINN with replay","step":74300,"loss":0.0016},
{"series":"PINN with replay","step":74700,"loss":0.0015},
{"series":"PINN with replay","step":75200,"loss":0.0016},
{"series":"PINN with replay","step":75700,"loss":0.0014},
{"series":"PINN with replay","step":76200,"loss":0.0015},
{"series":"PINN with replay","step":77000,"loss":0.0015},
{"series":"PINN with replay","step":77600,"loss":0.0015},
{"series":"PINN with replay","step":78500,"loss":0.0014},
{"series":"PINN with replay","step":79500,"loss":0.00145},
{"series":"PINN with replay","step":80500,"loss":0.0015},
{"series":"PINN with replay","step":81400,"loss":0.0014},
{"series":"PINN with replay","step":82300,"loss":0.0015},
{"series":"PINN with replay","step":83300,"loss":0.00152},
{"series":"PINN with replay","step":84200,"loss":0.0014},
{"series":"PINN with replay","step":85200,"loss":0.00155},
{"series":"PINN with replay","step":86100,"loss":0.0015},
{"series":"PINN with replay","step":87100,"loss":0.00152},
{"series":"PINN with replay","step":88000,"loss":0.0016},
{"series":"PINN with replay","step":89000,"loss":0.0016},
{"series":"PINN with replay","step":90000,"loss":0.0015},
{"series":"PINN with replay","step":90900,"loss":0.00152},
{"series":"PINN with replay","step":91800,"loss":0.0014},
{"series":"PINN with replay","step":92800,"loss":0.0015},
{"series":"PINN with replay","step":93800,"loss":0.00155},
{"series":"PINN with replay","step":94700,"loss":0.0015},
{"series":"PINN with replay","step":95700,"loss":0.00152},
{"series":"PINN with replay","step":96600,"loss":0.0015},
{"series":"PINN with replay","step":97500,"loss":0.0014},
{"series":"PINN with replay","step":98500,"loss":0.0014},
{"series":"PINN with replay","step":99300,"loss":0.00135},
{"series":"PINN with replay","step":100000,"loss":0.0013}
]},
 "mark": {"type": "line", "strokeWidth": 1.6, "clip": true},
 "encoding": {
  "x": {"field": "step", "type": "quantitative", "scale": {"domain": [-5000, 105000], "nice": false, "zero": false},
        "axis": {"title": "Training Step", "values": [0, 20000, 40000, 60000, 80000, 100000], "format": "d", "tickSize": 4.9, "labelFlush": false, "labelPadding": 1.5, "titlePadding": 3}},
  "y": {"field": "loss", "type": "quantitative", "scale": {"type": "log", "domain": [0.00021, 0.475], "nice": false},
        "axis": {"title": "Loss", "titlePadding": 6,
          "values": [0.0003,0.0004,0.0005,0.0006,0.0007,0.0008,0.0009,0.001,0.002,0.003,0.004,0.005,0.006,0.007,0.008,0.009,0.01,0.02,0.03,0.04,0.05,0.06,0.07,0.08,0.09,0.1,0.2,0.3,0.4],
          "labelExpr": "datum.value == 0.1 ? '10⁻¹' : datum.value == 0.01 ? '10⁻²' : datum.value == 0.001 ? '10⁻³' : ''",
          "tickSize": {"condition": {"test": "datum.value == 0.1 || datum.value == 0.01 || datum.value == 0.001", "value": 4.9}, "value": 2.8},
          "tickWidth": {"condition": {"test": "datum.value == 0.1 || datum.value == 0.01 || datum.value == 0.001", "value": 1.1}, "value": 0.8}}},
  "color": {"field": "series", "type": "nominal", "sort": null,
    "scale": {"domain": ["DERL continual", "SOB continual", "OUTL continual", "PINN full", "PINN no dist.", "PINN with replay"],
              "range": ["#ff7f0e", "#2ca02c", "#d62728", "#1f77b4", "#9467bd", "#8c564b"]},
    "legend": {"title": null}}
 }}
]
}
